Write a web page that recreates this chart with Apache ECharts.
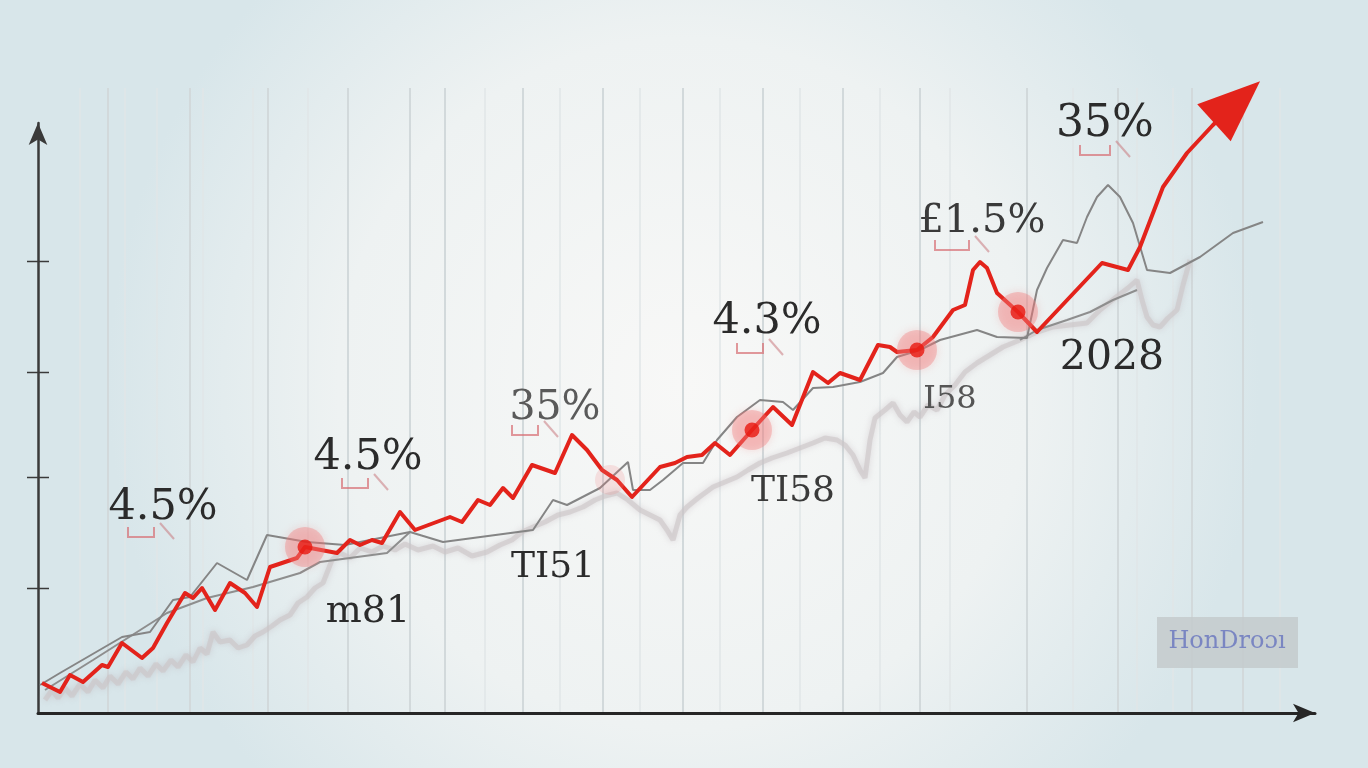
<!DOCTYPE html>
<html>
<head>
<meta charset="utf-8">
<title>Growth chart</title>
<script src="https://cdn.jsdelivr.net/npm/echarts@6/dist/echarts.min.js"></script>
<style>
  html, body { margin: 0; padding: 0; }
  #chart { width: 1368px; height: 768px; }
</style>
</head>
<body>
<div id="chart"></div>
<script>
// x = time units from origin, y = index value
const redLine = [
  [4, 30], [22, 21], [32, 38], [45, 31], [64, 48], [70, 46], [84, 70], [104, 55],
  [115, 65], [129, 90], [147, 120], [155, 115], [164, 125], [177, 103], [192, 130],
  [207, 120], [219, 106], [232, 146], [259, 155], [267, 166], [299, 160], [312, 173],
  [322, 168], [334, 173], [344, 170], [362, 201], [377, 183], [412, 196], [424, 191],
  [440, 213], [452, 208], [465, 225], [475, 215], [494, 248], [517, 240], [534, 278],
  [549, 263], [564, 243], [579, 233], [594, 216], [622, 246], [637, 250], [649, 256],
  [664, 258], [677, 270], [692, 258], [714, 283], [735, 306], [754, 288], [775, 341],
  [790, 330], [802, 340], [822, 333], [840, 368], [852, 366], [859, 361], [879, 363],
  [895, 376], [915, 403], [927, 408], [935, 443], [942, 451], [949, 445], [959, 420],
  [980, 401], [999, 381], [1064, 450], [1090, 443], [1102, 466], [1125, 526],
  [1149, 560], [1175, 588]
];
const arrowHead = [1199, 611];

const grayUpper = [
  [2, 28], [22, 40], [84, 76], [112, 81], [135, 113], [152, 116], [179, 150], [209, 133],
  [229, 178], [269, 171], [307, 168], [372, 181], [405, 171], [495, 183], [515, 213],
  [529, 208], [562, 225], [590, 251], [595, 223], [612, 223], [625, 233], [645, 250],
  [665, 250], [679, 273], [699, 296], [722, 313], [745, 311], [755, 303], [775, 325],
  [795, 326], [822, 331], [845, 340], [859, 356], [882, 363], [902, 373], [939, 383],
  [959, 376], [989, 375], [999, 423], [1009, 445], [1025, 473], [1039, 470], [1049, 496],
  [1059, 516], [1070, 528], [1082, 516], [1095, 490], [1109, 443], [1132, 440],
  [1162, 456], [1195, 480], [1225, 491]
];

const grayLower = [
  [7, 23], [55, 53], [129, 100], [169, 115], [215, 126], [262, 140], [282, 151],
  [349, 160], [372, 181], '-',
  [982, 373], [999, 383], [1029, 393], [1052, 401], [1075, 413], [1099, 423]
];

const noiseLine = [
  [7, 13], [14, 23], [20, 15], [27, 25], [34, 17], [42, 29], [50, 21], [57, 33], [65, 25],
  [72, 37], [80, 29], [88, 41], [95, 34], [102, 45], [110, 37], [118, 49], [125, 42],
  [133, 53], [140, 46], [148, 58], [155, 51], [162, 65], [169, 59], [175, 81], [182, 71],
  [192, 73], [200, 65], [209, 68], [217, 77], [225, 81], [234, 87], [242, 93], [252, 98],
  [260, 110], [269, 116], [277, 125], [285, 130], [294, 153], [302, 160], [312, 155],
  [322, 165], [334, 161], [345, 167], [357, 163], [367, 169], [380, 163], [395, 167],
  [407, 161], [420, 165], [434, 157], [449, 161], [462, 168], [474, 173], [484, 181],
  [495, 186], [507, 191], [520, 198], [532, 201], [545, 206], [557, 213], [567, 217],
  [579, 220], [590, 213], [602, 203], [612, 198], [622, 193], [629, 183], [635, 173],
  [642, 198], [649, 206], [660, 215], [675, 226], [687, 231], [699, 236], [710, 243],
  [722, 250], [734, 255], [749, 260], [762, 265], [775, 270], [787, 275], [799, 273],
  [807, 268], [815, 258], [822, 243], [827, 235], [832, 273], [837, 295], [847, 303],
  [855, 310], [862, 298], [869, 291], [876, 301], [882, 296], [890, 308], [899, 303],
  [907, 318], [917, 328], [927, 341], [939, 350], [952, 358], [965, 366], [982, 373],
  [997, 380], [1015, 386], [1032, 388], [1049, 390], [1062, 403], [1077, 415],
  [1090, 425], [1099, 433], [1104, 413], [1109, 396], [1115, 388], [1122, 386],
  [1130, 395], [1139, 403], [1145, 428], [1152, 453]
];

const highlights = [[267, 166], [714, 283], [879, 363], [980, 401]];
const faintHighlights = [[572, 233]];

const yTicks = [125, 236, 341, 452];
const gridStrong = [70, 152, 230, 310, 372, 407, 485, 565, 645, 725, 805, 882, 989, 1080, 1154, 1205];
const gridFaint = [42, 87, 119, 165, 215, 270, 447, 522, 602, 682, 762, 842, 912, 1035, 1099, 1135, 1242];

// annotation texts: [text, left, top, size, color]
const notes = [
  ['4.5%', 163, 508, 43, '#2b2b2b'],
  ['4.5%', 368, 458, 43, '#2b2b2b'],
  ['35%', 555, 408, 41, '#5a5a5a'],
  ['4.3%', 767, 322, 43, '#2b2b2b'],
  ['£1.5%', 982, 222, 40, '#3a3a3a'],
  ['35%', 1105, 125, 44, '#2b2b2b'],
  ['2028', 1112, 358, 41, '#2b2b2b'],
  ['m81', 368, 612, 38, '#2b2b2b'],
  ['TI51', 553, 568, 36, '#2b2b2b'],
  ['TI58', 793, 492, 36, '#3a3a3a'],
  ['I58', 950, 400, 32, '#555555']
];

// little pink brackets under the labels: [left, top, width]
const brackets = [[128, 527, 26], [342, 478, 26], [512, 425, 26], [737, 343, 26], [935, 240, 34], [1080, 145, 30]];

const chart = echarts.init(document.getElementById('chart'));

const serif = '"DejaVu Serif", "Liberation Serif", serif';
const pink = 'rgba(215,110,115,0.7)';

const labelGraphics = notes.map(n => ({
  type: 'text', x: n[1], y: n[2], z: 10,
  style: {
    text: n[0], font: 'normal ' + n[3] + 'px ' + serif, fill: n[4],
    textAlign: 'center', textVerticalAlign: 'middle'
  }
}));

const bracketGraphics = [];
brackets.forEach(b => {
  bracketGraphics.push({
    type: 'polyline', z: 9, silent: true,
    shape: { points: [[b[0], b[1]], [b[0], b[1] + 10], [b[0] + b[2], b[1] + 10], [b[0] + b[2], b[1]]] },
    style: { stroke: pink, lineWidth: 2, fill: null }
  });
  bracketGraphics.push({
    type: 'line', z: 9, silent: true,
    shape: { x1: b[0] + b[2] + 6, y1: b[1] - 4, x2: b[0] + b[2] + 20, y2: b[1] + 12 },
    style: { stroke: 'rgba(200,120,125,0.55)', lineWidth: 2 }
  });
});

const badge = [
  {
    type: 'rect', shape: { x: 1157, y: 617, width: 141, height: 51 }, z: 10,
    style: { fill: 'rgba(196,202,205,0.85)' }
  },
  {
    type: 'text', x: 1227, y: 642, z: 11,
    style: {
      text: 'HonDroɔı', font: 'normal 24px ' + serif, fill: '#7a86c2',
      textAlign: 'center', textVerticalAlign: 'middle'
    }
  }
];

const option = {
  animation: false,
  backgroundColor: {
    type: 'radial', x: 0.5, y: 0.5, r: 0.75,
    colorStops: [
      { offset: 0, color: '#f8f8f7' },
      { offset: 0.6, color: '#eef2f2' },
      { offset: 1, color: '#d8e6ea' }
    ]
  },
  grid: [
    { left: 38, right: 53, top: 123, bottom: 55 },
    { left: 38, right: 53, top: 88, bottom: 55 }
  ],
  xAxis: [
    {
      gridIndex: 0, type: 'value', min: 0, max: 1277,
      axisLine: {
        show: true, symbol: ['none', 'arrow'], symbolSize: [14, 22],
        lineStyle: { color: '#262626', width: 3 }
      },
      axisTick: { show: false }, axisLabel: { show: false }, splitLine: { show: false }
    },
    { gridIndex: 1, type: 'value', min: 0, max: 1277, show: false }
  ],
  yAxis: [
    {
      gridIndex: 0, type: 'value', min: 0, max: 590,
      axisLine: {
        show: true, symbol: ['none', 'arrow'], symbolSize: [14, 22],
        lineStyle: { color: '#3a3a3a', width: 2.5 }
      },
      axisTick: { show: false }, axisLabel: { show: false }, splitLine: { show: false }
    },
    { gridIndex: 1, type: 'value', min: 0, max: 1, show: false }
  ],
  series: [
    {
      type: 'line', xAxisIndex: 1, yAxisIndex: 1, data: [], silent: true, z: 0,
      markLine: {
        silent: true, symbol: 'none', label: { show: false }, z: 0, animation: false,
        data: gridStrong.map(v => ({ xAxis: v, lineStyle: { color: '#d2d9db', width: 2, type: 'solid' } }))
          .concat(gridFaint.map(v => ({ xAxis: v, lineStyle: { color: '#e1e6e7', width: 1.5, type: 'solid' } })))
      }
    },
    {
      name: 'noise', type: 'line', data: noiseLine, symbol: 'none', clip: false, z: 1,
      lineStyle: { color: '#cbc4c7', width: 5, opacity: 0.6, shadowBlur: 6, shadowColor: 'rgba(185,175,180,0.7)' }
    },
    {
      name: 'lower', type: 'line', data: grayLower, symbol: 'none', connectNulls: false, z: 2,
      lineStyle: { color: '#8e8e8e', width: 2 }
    },
    {
      name: 'upper', type: 'line', data: grayUpper, symbol: 'none', clip: false, z: 2,
      lineStyle: { color: '#858585', width: 2 }
    },
    {
      name: 'trend', type: 'line', clip: false, z: 4, symbol: 'none', showSymbol: true,
      data: redLine.concat([{
        value: arrowHead, symbol: 'triangle', symbolSize: [50, 62], symbolRotate: -48,
        itemStyle: { color: '#e3231b' }
      }]),
      lineStyle: { color: '#e3231b', width: 4, join: 'round' },
      itemStyle: { color: '#e3231b' }
    },
    {
      type: 'scatter', data: highlights, symbolSize: 40, z: 5, silent: true,
      itemStyle: { color: 'rgba(242,120,120,0.45)', shadowBlur: 8, shadowColor: 'rgba(240,110,110,0.6)' }
    },
    {
      type: 'scatter', data: faintHighlights, symbolSize: 30, z: 5, silent: true,
      itemStyle: { color: 'rgba(242,130,130,0.25)' }
    },
    {
      type: 'scatter', data: highlights, symbolSize: 15, z: 6, silent: true,
      itemStyle: { color: '#e8180f' }
    }
  ],
  graphic: labelGraphics.concat(bracketGraphics, badge)
};

chart.setOption(option);

// y ticks cross the axis line, so place them from the axis scale
const axisX = chart.convertToPixel({ xAxisIndex: 0 }, 0);
const tickGraphics = yTicks.map(v => {
  const py = Math.round(chart.convertToPixel({ yAxisIndex: 0 }, v)) + 0.5;
  return {
    type: 'line', z: 8, silent: true,
    shape: { x1: axisX - 11, y1: py, x2: axisX + 11, y2: py },
    style: { stroke: '#3a3a3a', lineWidth: 1.5 }
  };
});
chart.setOption({ graphic: labelGraphics.concat(bracketGraphics, badge, tickGraphics) });

window.addEventListener('resize', () => chart.resize());
</script>
</body>
</html>
